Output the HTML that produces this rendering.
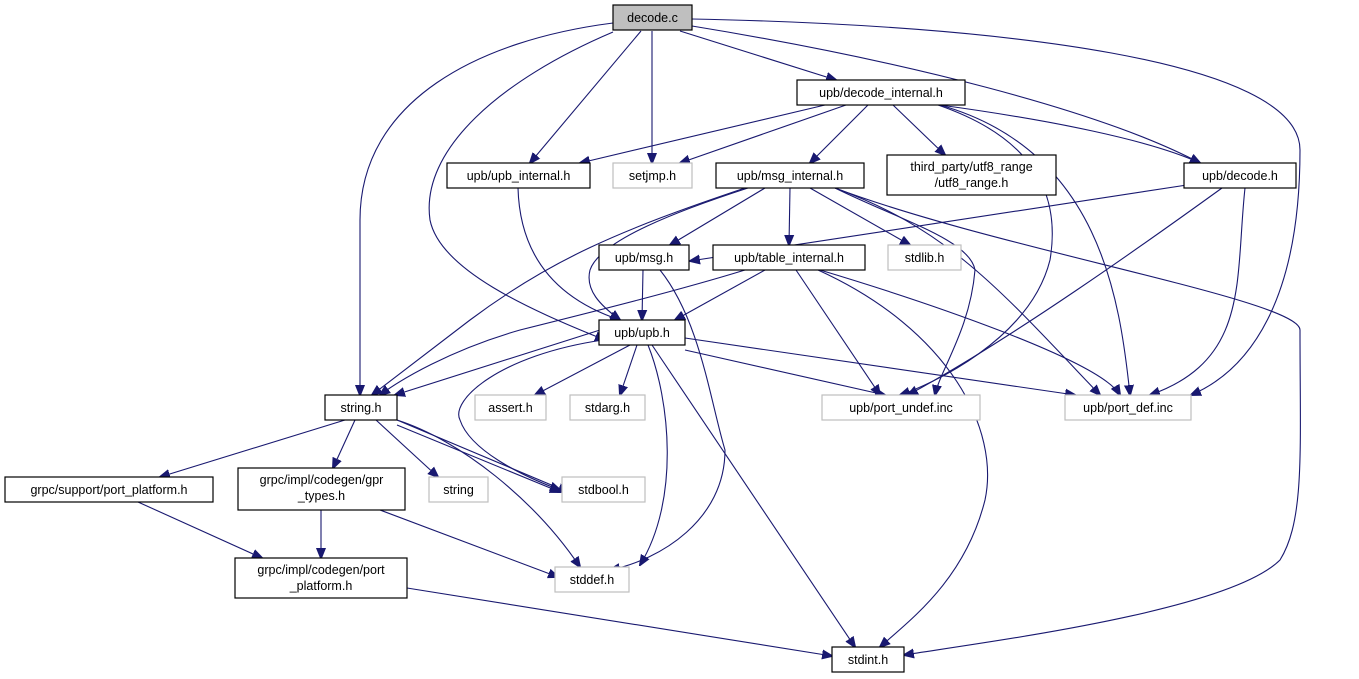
<!DOCTYPE html>
<html><head><meta charset="utf-8"><style>
html,body{margin:0;padding:0;background:#fff;}
svg{display:block;}
text{font-family:"Liberation Sans",sans-serif;font-size:12.5px;fill:#000;}
.n{fill:#fff;stroke:#000;stroke-width:1.2}
.g{fill:#fff;stroke:#bfbfbf;stroke-width:1.2}
.e{fill:none;stroke:#191970;stroke-width:1.1}
</style></head><body>
<svg width="1359" height="679" viewBox="0 0 1359 679" xmlns="http://www.w3.org/2000/svg">
<defs><marker id="a" viewBox="0 0 10 10" refX="9" refY="5" markerWidth="11" markerHeight="11" orient="auto" markerUnits="userSpaceOnUse"><path d="M0,1 L10,5 L0,9 z" fill="#191970" stroke="#191970"/></marker></defs>
<g class="e" marker-end="url(#a)">
<path d="M613,23 C480,40 360,100 360,220 L360,395"/>
<path d="M613,32 C500,80 420,150 430,220 C440,270 530,310 605,340"/>
<path d="M641,31 L530,163"/>
<path d="M652,31 L652,163"/>
<path d="M680,31 L836,80"/>
<path d="M692,26 C900,60 1100,110 1200,163"/>
<path d="M692,19 C1000,25 1300,60 1300,150 C1300,300 1250,370 1191,395"/>
<path d="M825,105 L580,163"/>
<path d="M846,105 L680,163"/>
<path d="M868,105 L810,163"/>
<path d="M893,105 L945,155"/>
<path d="M940,105 C1050,120 1150,140 1200,163"/>
<path d="M938,105 C1040,140 1060,200 1050,260 C1030,340 930,385 900,395"/>
<path d="M940,105 C1100,150 1120,300 1130,395"/>
<path d="M518,188 C520,260 560,300 620,320"/>
<path d="M1200,183 L690,261"/>
<path d="M1222,188 C1150,240 1010,340 908,395"/>
<path d="M1245,188 C1235,280 1250,360 1150,395"/>
<path d="M765,188 L670,245"/>
<path d="M790,188 L789,245"/>
<path d="M810,188 L910,245"/>
<path d="M748,188 C680,210 600,240 590,270 C585,290 600,305 620,320"/>
<path d="M745,188 C620,230 550,260 470,320 L372,395"/>
<path d="M835,188 C900,220 970,240 975,270 C970,330 940,370 935,395"/>
<path d="M835,188 C950,230 1000,290 1100,395"/>
<path d="M835,188 C1000,250 1300,300 1300,330 C1300,450 1305,520 1280,560 C1230,610 1000,640 904,655"/>
<path d="M643,270 L642,320"/>
<path d="M660,270 C700,320 710,400 725,450 C725,520 660,560 610,570"/>
<path d="M745,270 C680,290 600,310 520,330 C450,350 400,380 380,395"/>
<path d="M765,270 L675,320"/>
<path d="M796,270 L880,395"/>
<path d="M820,270 C920,300 1100,360 1120,395"/>
<path d="M818,270 C950,330 1000,430 985,500 C965,580 910,620 880,647"/>
<path d="M600,330 L395,395"/>
<path d="M603,340 C500,355 450,400 460,420 C470,450 520,475 560,490"/>
<path d="M630,345 L535,395"/>
<path d="M637,345 L620,395"/>
<path d="M648,345 C670,400 680,500 640,565"/>
<path d="M652,345 L855,647"/>
<path d="M685,350 L885,395"/>
<path d="M685,338 L1075,395"/>
<path d="M345,420 L160,477"/>
<path d="M355,420 L333,468"/>
<path d="M376,420 L438,477"/>
<path d="M397,420 L568,492"/>
<path d="M397,420 C460,440 535,500 580,567"/>
<path d="M397,425 L560,492"/>
<path d="M138,502 L262,558"/>
<path d="M321,510 L321,558"/>
<path d="M380,510 L558,577"/>
<path d="M407,588 L832,656"/>
</g>
<rect x="613" y="5" width="79" height="25" fill="#bfbfbf" stroke="#000" stroke-width="1.2"/><text x="652.5" y="22" text-anchor="middle">decode.c</text>
<rect class="n" x="797" y="80" width="168" height="25"/><text x="881" y="97" text-anchor="middle">upb/decode_internal.h</text>
<rect class="n" x="447" y="163" width="143" height="25"/><text x="518.5" y="180" text-anchor="middle">upb/upb_internal.h</text>
<rect class="g" x="613" y="163" width="79" height="25"/><text x="652.5" y="180" text-anchor="middle">setjmp.h</text>
<rect class="n" x="716" y="163" width="148" height="25"/><text x="790" y="180" text-anchor="middle">upb/msg_internal.h</text>
<rect class="n" x="887" y="155" width="169" height="40"/><text x="971.5" y="171" text-anchor="middle">third_party/utf8_range</text><text x="971.5" y="187" text-anchor="middle">/utf8_range.h</text>
<rect class="n" x="1184" y="163" width="112" height="25"/><text x="1240" y="180" text-anchor="middle">upb/decode.h</text>
<rect class="n" x="599" y="245" width="90" height="25"/><text x="644" y="262" text-anchor="middle">upb/msg.h</text>
<rect class="n" x="713" y="245" width="152" height="25"/><text x="789" y="262" text-anchor="middle">upb/table_internal.h</text>
<rect class="g" x="888" y="245" width="73" height="25"/><text x="924.5" y="262" text-anchor="middle">stdlib.h</text>
<rect class="n" x="599" y="320" width="86" height="25"/><text x="642" y="337" text-anchor="middle">upb/upb.h</text>
<rect class="n" x="325" y="395" width="72" height="25"/><text x="361" y="412" text-anchor="middle">string.h</text>
<rect class="g" x="475" y="395" width="71" height="25"/><text x="510.5" y="412" text-anchor="middle">assert.h</text>
<rect class="g" x="570" y="395" width="75" height="25"/><text x="607.5" y="412" text-anchor="middle">stdarg.h</text>
<rect class="g" x="822" y="395" width="158" height="25"/><text x="901" y="412" text-anchor="middle">upb/port_undef.inc</text>
<rect class="g" x="1065" y="395" width="126" height="25"/><text x="1128" y="412" text-anchor="middle">upb/port_def.inc</text>
<rect class="n" x="5" y="477" width="208" height="25"/><text x="109" y="494" text-anchor="middle">grpc/support/port_platform.h</text>
<rect class="n" x="238" y="468" width="167" height="42"/><text x="321.5" y="484" text-anchor="middle">grpc/impl/codegen/gpr</text><text x="321.5" y="500" text-anchor="middle">_types.h</text>
<rect class="g" x="429" y="477" width="59" height="25"/><text x="458.5" y="494" text-anchor="middle">string</text>
<rect class="g" x="562" y="477" width="83" height="25"/><text x="603.5" y="494" text-anchor="middle">stdbool.h</text>
<rect class="n" x="235" y="558" width="172" height="40"/><text x="321" y="574" text-anchor="middle">grpc/impl/codegen/port</text><text x="321" y="590" text-anchor="middle">_platform.h</text>
<rect class="g" x="555" y="567" width="74" height="25"/><text x="592" y="584" text-anchor="middle">stddef.h</text>
<rect class="n" x="832" y="647" width="72" height="25"/><text x="868" y="664" text-anchor="middle">stdint.h</text>
</svg>
</body></html>
